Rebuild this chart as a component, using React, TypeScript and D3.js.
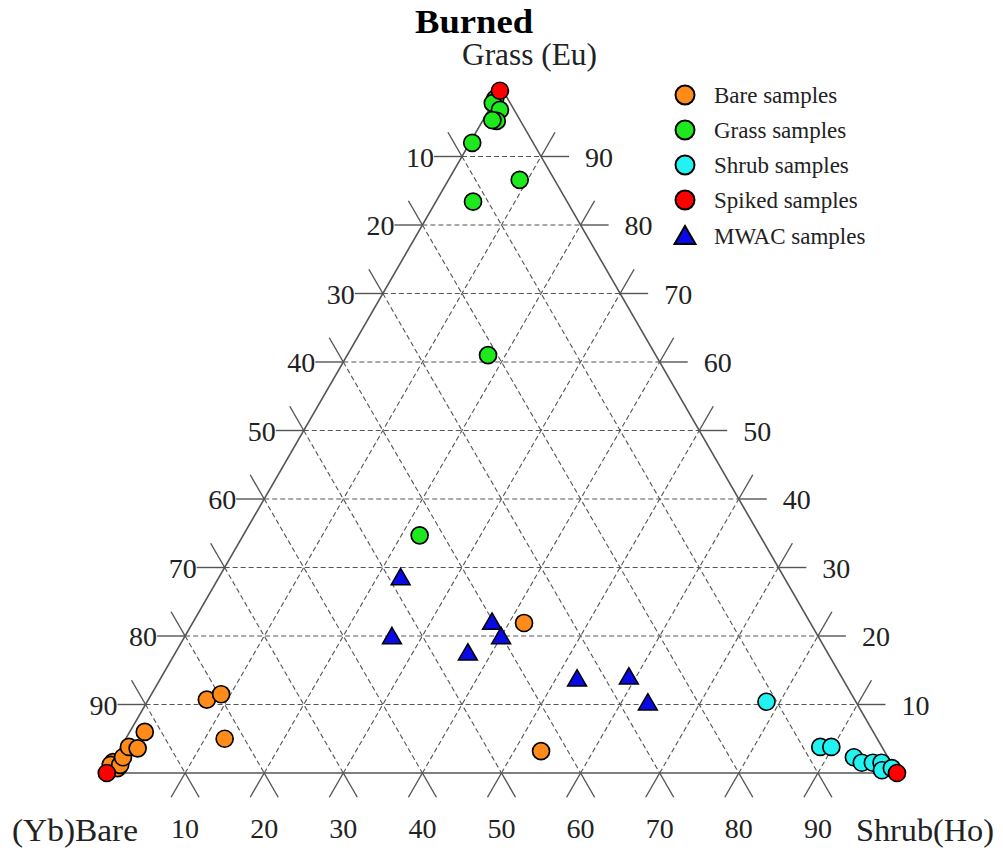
import React from "react";
import * as d3 from "d3";

// Compositions as [Bare, Grass, Shrub] percentages
const bareSamples: [number, number, number][] = [
  [98.2, 0.7, 1.1],
  [98.3, 1.6, 0.1],
  [98.8, 1.2, 0.0],
  [97.6, 1.2, 1.2],
  [96.7, 2.3, 1.0],
  [95.2, 3.8, 1.0],
  [94.2, 3.6, 2.2],
  [92.1, 6.0, 1.9],
  [81.9, 10.7, 7.4],
  [79.7, 11.5, 8.8],
  [82.5, 5.0, 12.5],
  [36.2, 21.9, 41.9],
  [43.4, 3.2, 53.4],
];

const grassSamples: [number, number, number][] = [
  [1.6, 98.4, 0.0],
  [2.2, 97.8, 0.0],
  [1.8, 96.8, 1.4],
  [3.0, 95.2, 1.8],
  [3.5, 95.3, 1.2],
  [7.7, 92.0, 0.3],
  [4.4, 86.6, 9.0],
  [11.9, 83.4, 4.7],
  [21.2, 61.0, 17.8],
  [43.0, 34.7, 22.3],
];

const shrubSamples: [number, number, number][] = [
  [11.3, 10.4, 78.3],
  [7.8, 3.8, 88.4],
  [6.4, 3.8, 89.8],
  [4.3, 2.3, 93.4],
  [3.7, 1.5, 94.8],
  [2.3, 1.5, 96.2],
  [1.2, 1.5, 97.3],
  [1.7, 0.4, 97.9],
  [0.3, 0.7, 99.0],
];

const spikedSamples: [number, number, number][] = [
  [0.4, 99.6, 0.0],
  [99.9, 0.0, 0.1],
  [0.0, 0.0, 100.0],
];

const mwacSamples: [number, number, number][] = [
  [48.5, 28.5, 23.0],
  [53.9, 19.9, 26.2],
  [40.2, 22.0, 37.8],
  [40.1, 19.9, 40.0],
  [45.5, 17.5, 37.0],
  [33.6, 13.7, 52.7],
  [26.9, 14.0, 59.1],
  [26.4, 10.2, 63.4],
];

const gridTicks = [10, 20, 30, 40, 50, 60, 70, 80, 90];

const legendLabels = [
  "Bare samples",
  "Grass samples",
  "Shrub samples",
  "Spiked samples",
  "MWAC samples",
];

const COLORS = {
  bare: "#ff8c1a",
  grass: "#1ee81e",
  shrub: "#22f2f2",
  spiked: "#ff0000",
  mwac: "#0a0ae6",
};

const FONT = "'Liberation Serif', 'Times New Roman', serif";
const LINE = "#555";
const TICK_LEN = 28;

// Ternary layout: Bare at lower left, Shrub at lower right, Grass at top
const xScale = d3.scaleLinear().domain([0, 100]).range([106, 897]);
const yScale = d3.scaleLinear().domain([0, 100]).range([773, 88]);

function project(bare: number, grass: number, shrub: number): [number, number] {
  const total = bare + grass + shrub;
  const g = (grass / total) * 100;
  const s = (shrub / total) * 100;
  return [xScale(s + g / 2), yScale(g)];
}

const triPath = d3.symbol().type(d3.symbolTriangle).size(155)();
const triLegend = d3.symbol().type(d3.symbolTriangle).size(190)();

export default function App() {
  const A = project(100, 0, 0);
  const B = project(0, 0, 100);
  const C = project(0, 100, 0);

  const grid: React.ReactNode[] = [];
  const ticks: React.ReactNode[] = [];
  const labels: React.ReactNode[] = [];

  const cos60 = Math.cos(Math.PI / 3);
  const sin60 = Math.sin(Math.PI / 3);

  gridTicks.forEach((t) => {
    // constant Grass (horizontal)
    const gl = project(100 - t, t, 0);
    const gr = project(0, t, 100 - t);
    // constant Bare (parallel to right edge)
    const bl = project(t, 100 - t, 0);
    const bb = project(t, 0, 100 - t);
    // constant Shrub (parallel to left edge)
    const sb = project(100 - t, 0, t);
    const sr = project(0, 100 - t, t);

    grid.push(
      <line key={`g${t}`} x1={gl[0]} y1={gl[1]} x2={gr[0]} y2={gr[1]} />,
      <line key={`b${t}`} x1={bl[0]} y1={bl[1]} x2={bb[0]} y2={bb[1]} />,
      <line key={`s${t}`} x1={sb[0]} y1={sb[1]} x2={sr[0]} y2={sr[1]} />
    );

    // outward tick extensions at the edges
    ticks.push(
      // left edge: horizontal and up-left
      <line key={`tl1${t}`} x1={gl[0]} y1={gl[1]} x2={gl[0] - TICK_LEN} y2={gl[1]} />,
      <line
        key={`tl2${t}`}
        x1={bl[0]}
        y1={bl[1]}
        x2={bl[0] - TICK_LEN * cos60}
        y2={bl[1] - TICK_LEN * sin60}
      />,
      // right edge: horizontal and up-right
      <line key={`tr1${t}`} x1={gr[0]} y1={gr[1]} x2={gr[0] + TICK_LEN} y2={gr[1]} />,
      <line
        key={`tr2${t}`}
        x1={sr[0]}
        y1={sr[1]}
        x2={sr[0] + TICK_LEN * cos60}
        y2={sr[1] - TICK_LEN * sin60}
      />,
      // bottom edge: down-left and down-right
      <line
        key={`tb1${t}`}
        x1={sb[0]}
        y1={sb[1]}
        x2={sb[0] - TICK_LEN * cos60}
        y2={sb[1] + TICK_LEN * sin60}
      />,
      <line
        key={`tb2${t}`}
        x1={sb[0]}
        y1={sb[1]}
        x2={sb[0] + TICK_LEN * cos60}
        y2={sb[1] + TICK_LEN * sin60}
      />
    );

    labels.push(
      <text key={`ll${t}`} x={gl[0] - TICK_LEN} y={gl[1] + 10} textAnchor="end">
        {100 - t}
      </text>,
      <text key={`lr${t}`} x={gr[0] + TICK_LEN + 16} y={gr[1] + 10} textAnchor="start">
        {t}
      </text>,
      <text key={`lb${t}`} x={sb[0]} y={838} textAnchor="middle">
        {t}
      </text>
    );
  });

  const circles = (
    data: [number, number, number][],
    color: string,
    key: string
  ) =>
    data.map((d, i) => {
      const [x, y] = project(d[0], d[1], d[2]);
      return (
        <circle
          key={`${key}${i}`}
          cx={x}
          cy={y}
          r={8.5}
          fill={color}
          stroke="#000"
          strokeWidth={1.7}
        />
      );
    });

  const legendY = [95, 130, 165, 200, 236];
  const legendColors = [COLORS.bare, COLORS.grass, COLORS.shrub, COLORS.spiked];

  return (
    <svg
      width={1003}
      height={850}
      style={{ position: "absolute", left: 0, top: 0, background: "#fff" }}
      fontFamily={FONT}
    >
      <text
        x={415}
        y={33}
        fontSize={34}
        fontWeight="bold"
        textLength={118}
        lengthAdjust="spacingAndGlyphs"
        fill="#000"
      >
        Burned
      </text>
      <text x={462} y={65} fontSize={31} textLength={135} lengthAdjust="spacingAndGlyphs" fill="#222">
        Grass (Eu)
      </text>
      <text x={12} y={841} fontSize={31} textLength={126} lengthAdjust="spacingAndGlyphs" fill="#222">
        (Yb)Bare
      </text>
      <text x={856} y={841} fontSize={31} textLength={138} lengthAdjust="spacingAndGlyphs" fill="#222">
        Shrub(Ho)
      </text>

      <g stroke={LINE} strokeWidth={1.1} strokeDasharray="5,3" fill="none">
        {grid}
      </g>
      <g stroke={LINE} strokeWidth={1.4} fill="none">
        {ticks}
      </g>
      <path
        d={`M${A[0]},${A[1]}L${B[0]},${B[1]}L${C[0]},${C[1]}Z`}
        fill="none"
        stroke={LINE}
        strokeWidth={1.6}
      />
      <g fontSize={28} fill="#222">
        {labels}
      </g>

      <g>
        {circles(bareSamples, COLORS.bare, "bare")}
        {circles(grassSamples, COLORS.grass, "grass")}
        {circles(shrubSamples, COLORS.shrub, "shrub")}
        {mwacSamples.map((d, i) => {
          const [x, y] = project(d[0], d[1], d[2]);
          return (
            <path
              key={`mwac${i}`}
              d={triPath ?? ""}
              transform={`translate(${x},${y + 1.5})`}
              fill={COLORS.mwac}
              stroke="#000"
              strokeWidth={1.5}
            />
          );
        })}
        {circles(spikedSamples, COLORS.spiked, "spiked")}
      </g>

      <g fontSize={23} fill="#222">
        {legendLabels.map((label, i) => (
          <g key={label}>
            {i < 4 ? (
              <circle
                cx={685}
                cy={legendY[i]}
                r={9.5}
                fill={legendColors[i]}
                stroke="#000"
                strokeWidth={2}
              />
            ) : (
              <path
                d={triLegend ?? ""}
                transform={`translate(685,${legendY[i] + 2})`}
                fill={COLORS.mwac}
                stroke="#000"
                strokeWidth={2}
              />
            )}
            <text x={714} y={legendY[i] + 8}>
              {label}
            </text>
          </g>
        ))}
      </g>
    </svg>
  );
}
